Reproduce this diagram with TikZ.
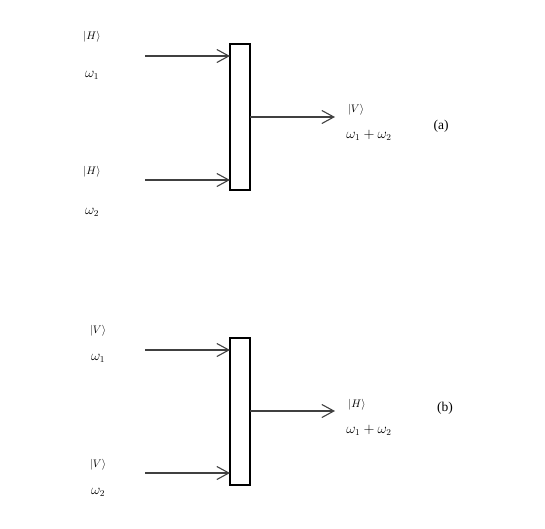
\documentclass[tikz,border=0pt]{standalone}
\usepackage{amsmath}
\usepackage{fontspec}
\setmainfont{Liberation Serif}
\usetikzlibrary{calc}
\usetikzlibrary{arrows.meta}

\begin{document}
\begin{tikzpicture}[x=1pt,y=-1pt,inner sep=0pt,
  beam/.style={draw=black!75,line width=1.2pt,-{Straight Barb[length=12pt,width=13pt,line width=1.1pt]}},
  lbl/.style={font=\fontsize{11}{13}\selectfont},
  frq/.style={font=\fontsize{13.5}{16}\selectfont},
  plate/.style={draw,line width=1.1pt,fill=white}]
\useasboundingbox (0,0) rectangle (545,528);

% panel (a)
\draw[plate] (230,44) rectangle (250,190);
\coordinate (a1s) at (145,56);
\coordinate (a1e) at (230,56);
\coordinate (a2s) at (145,180);
\coordinate (a2e) at (230,180);
\coordinate (aos) at (250,117);
\coordinate (aoe) at (335,117);
\draw[beam] (a1s) -- (a1e);
\draw[beam] (a2s) -- (a2e);
\draw[beam] (aos) -- (aoe);
\node[lbl] (ah1) at (92,37) {$|H\rangle$};
\node[frq] (aw1) at (92,75) {$\omega_1$};
\node[lbl] (ah2) at (92,172) {$|H\rangle$};
\node[frq] (aw2) at (92,212) {$\omega_2$};
\node[lbl] (av) at (356,110) {$|V\rangle$};
\node[frq] (aw) at (369,135) {$\omega_1+\omega_2$};
\node[frq] (alab) at (441,126) {(a)};

% panel (b)
\draw[plate] (230,338) rectangle (250,485);
\coordinate (b1s) at (145,350);
\coordinate (b1e) at (230,350);
\coordinate (b2s) at (145,473);
\coordinate (b2e) at (230,473);
\coordinate (bos) at (250,411);
\coordinate (boe) at (335,411);
\draw[beam] (b1s) -- (b1e);
\draw[beam] (b2s) -- (b2e);
\draw[beam] (bos) -- (boe);
\node[lbl] (bv1) at (98,331) {$|V\rangle$};
\node[frq] (bw1) at (98,358) {$\omega_1$};
\node[lbl] (bv2) at (98,465) {$|V\rangle$};
\node[frq] (bw2) at (98,492) {$\omega_2$};
\node[lbl] (bh) at (357,405) {$|H\rangle$};
\node[frq] (bw) at (369,430) {$\omega_1+\omega_2$};
\node[frq] (blab) at (445,408) {(b)};
\end{tikzpicture}
\end{document}
